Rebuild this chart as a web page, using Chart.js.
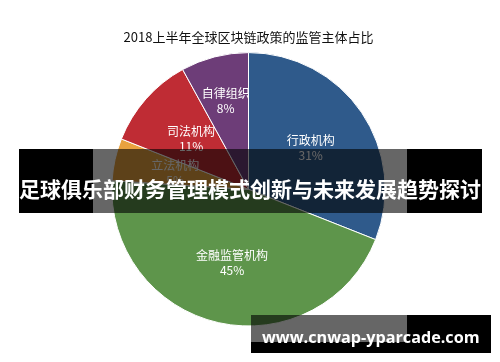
<!DOCTYPE html>
<html>
<head>
<meta charset="utf-8">
<script src="https://cdn.jsdelivr.net/npm/chart.js@4"></script>
<style>
  html, body { margin: 0; padding: 0; background: #fff; }
  #wrap { position: relative; width: 500px; height: 362px; overflow: hidden; }
  canvas { position: absolute; left: 0; top: 0; }
  .blk { position: absolute; background: #000; }
  .dim { position: absolute; background: rgba(0,0,0,0.6); }
  #banner { position: absolute; left: 0; top: 173px; width: 500px; height: 24px; line-height: 24px;
            text-align: center; color: #fff; font: bold 21px "Noto Sans CJK SC", sans-serif; white-space: nowrap; }
  #url { position: absolute; left: 262px; top: 325.5px; line-height: 20px; color: #fff;
         font: bold 16.2px "Open Sans", sans-serif; white-space: nowrap; }
</style>
</head>
<body>
<div id="wrap">
  <canvas id="c" width="500" height="362"></canvas>
  <div class="blk" style="left:19px;top:149px;width:74px;height:64px"></div>
  <div class="dim" style="left:93px;top:149px;width:314px;height:64px"></div>
  <div class="blk" style="left:407px;top:149px;width:75px;height:64px"></div>
  <div id="banner">足球俱乐部财务管理模式创新与未来发展趋势探讨</div>
  <div class="dim" style="left:251px;top:315px;width:156px;height:27px"></div>
  <div class="blk" style="left:251px;top:342px;width:156px;height:11px"></div>
  <div class="blk" style="left:407px;top:315px;width:84px;height:38px"></div>
  <div id="url">www.cnwap-yparcade.com</div>
</div>
<script>
const titleText = "2018上半年全球区块链政策的监管主体占比";
const categories = ["行政机构", "金融监管机构", "立法机构", "司法机构", "自律组织"];
const shares = [31, 45, 5, 11, 8];
const sliceColors = ["#2f5a8b", "#5e954b", "#e9a23f", "#bf2c34", "#6d3d78"];

const sliceLabels = {
  id: "sliceLabels",
  afterDatasetsDraw(chart, args, opts) {
    const ctx = chart.ctx;
    const meta = chart.getDatasetMeta(0);
    const data = chart.data.datasets[0].data;
    ctx.save();
    ctx.fillStyle = "#ffffff";
    ctx.textAlign = "center";
    ctx.textBaseline = "middle";
    ctx.font = '12px "Noto Sans CJK SC", sans-serif';
    meta.data.forEach((arc, i) => {
      const p = arc.getProps(["x", "y", "startAngle", "endAngle", "outerRadius"], true);
      const mid = (p.startAngle + p.endAngle) / 2;
      const r = p.outerRadius * opts.radius[i];
      const x = p.x + Math.cos(mid) * r;
      const y = p.y + Math.sin(mid) * r;
      ctx.fillText(chart.data.labels[i], x, y - 7);
      ctx.fillText(data[i] + "%", x, y + 8);
    });
    ctx.restore();
  }
};

new Chart(document.getElementById("c"), {
  type: "pie",
  data: {
    labels: categories,
    datasets: [{
      data: shares,
      backgroundColor: sliceColors,
      borderColor: "#ffffff",
      borderWidth: 1,
      hoverOffset: 0
    }]
  },
  options: {
    responsive: false,
    animation: false,
    events: [],
    layout: { padding: { top: 0, bottom: 35.5, left: 111, right: 114 } },
    plugins: {
      legend: { display: false },
      tooltip: { enabled: false },
      title: {
        display: true,
        text: titleText,
        color: "#111111",
        font: { family: '"Noto Sans CJK SC", sans-serif', size: 13, weight: "normal" },
        padding: { top: 29.5, bottom: 7 }
      },
      sliceLabels: { radius: [0.55, 0.55, 0.55, 0.56, 0.67] }
    }
  },
  plugins: [sliceLabels]
});
</script>
</body>
</html>
